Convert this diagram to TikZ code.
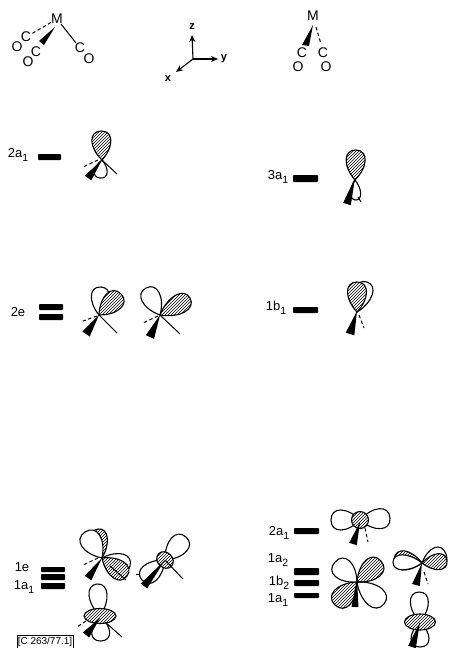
\documentclass[tikz,border=0pt]{standalone}
\usepackage{fontspec}
\setmainfont{Liberation Sans}
\usetikzlibrary{calc,patterns,arrows.meta}
\tikzset{
  lbl/.style={inner sep=0pt,font=\fontsize{13}{13}\selectfont},
  atom/.style={inner sep=0pt,font=\fontsize{14}{14}\selectfont},
  axlbl/.style={inner sep=0pt,font=\bfseries\fontsize{11}{11}\selectfont},
  bond/.style={line width=1pt},
  dbond/.style={line width=1pt,dash pattern=on 3.5pt off 2.5pt},
  axis/.style={line width=1.1pt,-{Stealth[length=7pt,width=6pt]}},
  orb/.style={line width=1.1pt,draw=black},
  levelbar/.style={fill=black,rounded corners=0.8pt},
  hatch/.style={pattern=north east lines,pattern color=black}
}
% lobe path: centre, tip, half width
\newcommand{\lobeset}[5]{%
  \pgfmathsetmacro{\lbux}{#3-#1}\pgfmathsetmacro{\lbuy}{#4-#2}%
  \pgfmathsetmacro{\lbl}{sqrt(\lbux*\lbux+\lbuy*\lbuy)}%
  \pgfmathsetmacro{\lbnx}{-\lbuy/\lbl*#5/0.75}\pgfmathsetmacro{\lbny}{\lbux/\lbl*#5/0.75}%
  \def\lbpath{(#1,#2) .. controls ({#1+0.45*\lbux+\lbnx},{#2+0.45*\lbuy+\lbny}) and ({#3+\lbnx},{#4+\lbny}) .. (#3,#4)
  .. controls ({#3-\lbnx},{#4-\lbny}) and ({#1+0.45*\lbux-\lbnx},{#2+0.45*\lbuy-\lbny}) .. (#1,#2) -- cycle}}
\newcommand{\olobe}[5]{\lobeset{#1}{#2}{#3}{#4}{#5}\draw[orb] \lbpath;}
\newcommand{\wlobe}[5]{\lobeset{#1}{#2}{#3}{#4}{#5}\filldraw[orb,fill=white] \lbpath;}
\newcommand{\hlobe}[5]{\lobeset{#1}{#2}{#3}{#4}{#5}\fill[white] \lbpath;\draw[orb,hatch] \lbpath;}
\newcommand{\hell}[5]{\fill[white] (#1,#2) ellipse[x radius=#3,y radius=#4,rotate=#5];\draw[orb,hatch] (#1,#2) ellipse[x radius=#3,y radius=#4,rotate=#5];}
\newcommand{\wdg}[5]{\fill (#1,#2) -- ($(#3,#4)!#5pt!90:(#1,#2)$) -- ($(#3,#4)!#5pt!-90:(#1,#2)$) -- cycle;}
\newcommand{\lsub}[1]{\raisebox{-3.5pt}{\fontsize{10.5}{10.5}\selectfont #1}}
\begin{document}
\begin{tikzpicture}[x=1pt,y=-1pt]
\useasboundingbox (0,0) rectangle (448,648);
% top-left complex
\node[atom] (m1) at (57,19) {M};
\node[atom] (o1a) at (17,47) {O}; \node[atom] (c1a) at (26,37) {C};
\node[atom] (o1b) at (28,62) {O}; \node[atom] (c1b) at (36,52) {C};
\node[atom] (c1c) at (80,48) {C}; \node[atom] (o1c) at (89,59) {O};
\draw[dbond] (m1) -- (c1a);
\fill (55,27) -- ($(c1b)+(8,-7)$) -- ($(c1b)+(3,-11)$) -- cycle;
\draw[bond] (m1) -- (c1c);
% axes
\coordinate (ax0) at (193,59);
\node[axlbl] (zl) at (192,27) {z};
\node[axlbl] (yl) at (224,59) {y};
\node[axlbl] (xl) at (168,79) {x};
\coordinate (zend) at (192,35); \coordinate (yend) at (218,59); \coordinate (xend) at (176,72);
\draw[axis] (ax0) -- (zend);
\draw[axis] (ax0) -- (yend);
\draw[axis] (ax0) -- (xend);
% top-right complex
\node[atom] (m2) at (313,16) {M};
\node[atom] (c2a) at (302,53) {C}; \node[atom] (o2a) at (298,67) {O};
\node[atom] (c2b) at (323,53) {C}; \node[atom] (o2b) at (326,67) {O};
\fill (313,25) -- (309,46) -- (302,45) -- cycle;
\draw[dbond] (316,27) -- (321,44);
% left: 2a1
\node[lbl] (l2a) at (18,155) {2a\lsub{1}};
\fill[levelbar] (38,154) rectangle (61,160);
\hlobe{102}{160}{101}{131}{9.5}
\olobe{102}{160}{100}{178}{6.5}
\draw[dbond] (98,160) -- (83,167);
\draw[bond] (102,160) -- (117,174);
\wdg{102}{160}{88}{178}{4}
% left: 2e
\node[lbl] (l2e) at (18,312) {2e};
\fill[levelbar] (39,304) rectangle (63,310);
\fill[levelbar] (39,314) rectangle (63,320);
\olobe{99}{315}{101}{287}{9}
\hlobe{99}{315}{121}{294}{10}
\draw[dbond] (97,316) -- (83,321);
\draw[bond] (99,315) -- (117,333);
\wdg{99}{315}{86}{334}{4.5}
\olobe{160}{315}{146}{288}{9.5}
\hlobe{160}{315}{190}{298}{9.5}
\draw[dbond] (158,316) -- (143,323);
\draw[bond] (160,315) -- (180,334);
\wdg{160}{315}{150}{337}{4.5}
% right: 3a1
\node[lbl] (l3a) at (278,177) {3a\lsub{1}};
\fill[levelbar] (293,175) rectangle (318,182);
\hlobe{355}{180}{356}{150}{9.5}
\olobe{355}{180}{356}{200}{5}
\draw[bond] (358,197) -- (361,202);
\wdg{355}{178}{347}{204}{4}
% right: 1b1
\node[lbl] (l1b) at (276,308) {1b\lsub{1}};
\fill[levelbar] (293,307) rectangle (318,313);
\olobe{357}{312}{367}{282}{9}
\hlobe{357}{312}{357}{282}{9.5}
\draw[dbond] (359,315) -- (364,328);
\wdg{357}{311}{350}{334}{4.5}
% lower left labels
\node[lbl] (l1e) at (22,567) {1e};
\node[lbl] (l1a) at (24,587) {1a\lsub{1}};
\fill[levelbar] (41,567) rectangle (65,572);
\fill[levelbar] (41,574) rectangle (65,580);
\fill[levelbar] (41,583) rectangle (65,589);
% orbital A
\hlobe{102}{558}{98}{529}{8}
\wlobe{102}{558}{85}{532}{10.5}
\olobe{102}{558}{130}{566}{9.5}
\hlobe{102}{558}{127}{576}{9.5}
\draw[dbond] (98,558) -- (83,565);
\draw[bond] (110,566) -- (126,580);
\wdg{102}{558}{88}{578}{4}
% orbital B
\olobe{165}{560}{186}{537}{10}
\olobe{165}{560}{142}{580}{9.5}
\hell{165}{560}{9}{7.5}{-45}
\draw[bond] (136,574) -- (140,574);
\draw[bond] (165,560) -- (183,579);
\wdg{165}{560}{144}{586}{4}
% orbital C
\olobe{100}{616}{97}{584}{9}
\olobe{100}{616}{101}{641}{9}
\hell{100}{616}{16}{7.5}{0}
\draw[dbond] (86,621) -- (77,627);
\draw[bond] (105,622) -- (122,637);
\wdg{100}{618}{86}{635}{4}
% box
\node[inner sep=0pt,font=\fontsize{10}{10}\selectfont] (tag) at (45,642) {[C 263/77.1]};
\draw[line width=0.7pt] (17,648) -- (17,635) -- (73,635) -- (73,648);
% lower right
\node[lbl] (r2a) at (279,533) {2a\lsub{1}};
\fill[levelbar] (294,528) rectangle (319,534);
\olobe{360}{520}{331}{520}{10}
\olobe{360}{520}{390}{518}{10}
\hell{360}{520}{8.5}{8.5}{0}
\draw[dbond] (365,528) -- (368,542);
\wdg{360}{522}{353}{544}{4}
\node[lbl] (r1a) at (278,560) {1a\lsub{2}};
\node[lbl] (r1b) at (279,583) {1b\lsub{2}};
\node[lbl] (r1c) at (278,600) {1a\lsub{1}};
\fill[levelbar] (294,568) rectangle (319,575);
\fill[levelbar] (294,580) rectangle (319,586);
\fill[levelbar] (294,593) rectangle (319,598);
% clover
\olobe{357}{582}{335}{562}{10.5}
\hlobe{357}{582}{381}{561}{10.5}
\hlobe{357}{582}{335}{605}{10.5}
\olobe{357}{582}{384}{604}{10.5}
\wdg{357}{578}{355}{607}{3.5}
% orbital D
\hlobe{422}{563}{394}{559}{9.5}
\wlobe{422}{563}{393}{562}{7.5}
\olobe{422}{563}{446}{554}{10}
\hlobe{422}{563}{447}{561}{8}
\draw[dbond] (424,572) -- (428,584);
\wdg{422}{563}{416}{585}{4}
% orbital E
\olobe{420}{622}{419}{592}{9}
\olobe{420}{622}{420}{647}{9}
\hell{420}{622}{15.5}{8}{0}
\wdg{420}{622}{412}{647}{4}
\end{tikzpicture}
\end{document}
